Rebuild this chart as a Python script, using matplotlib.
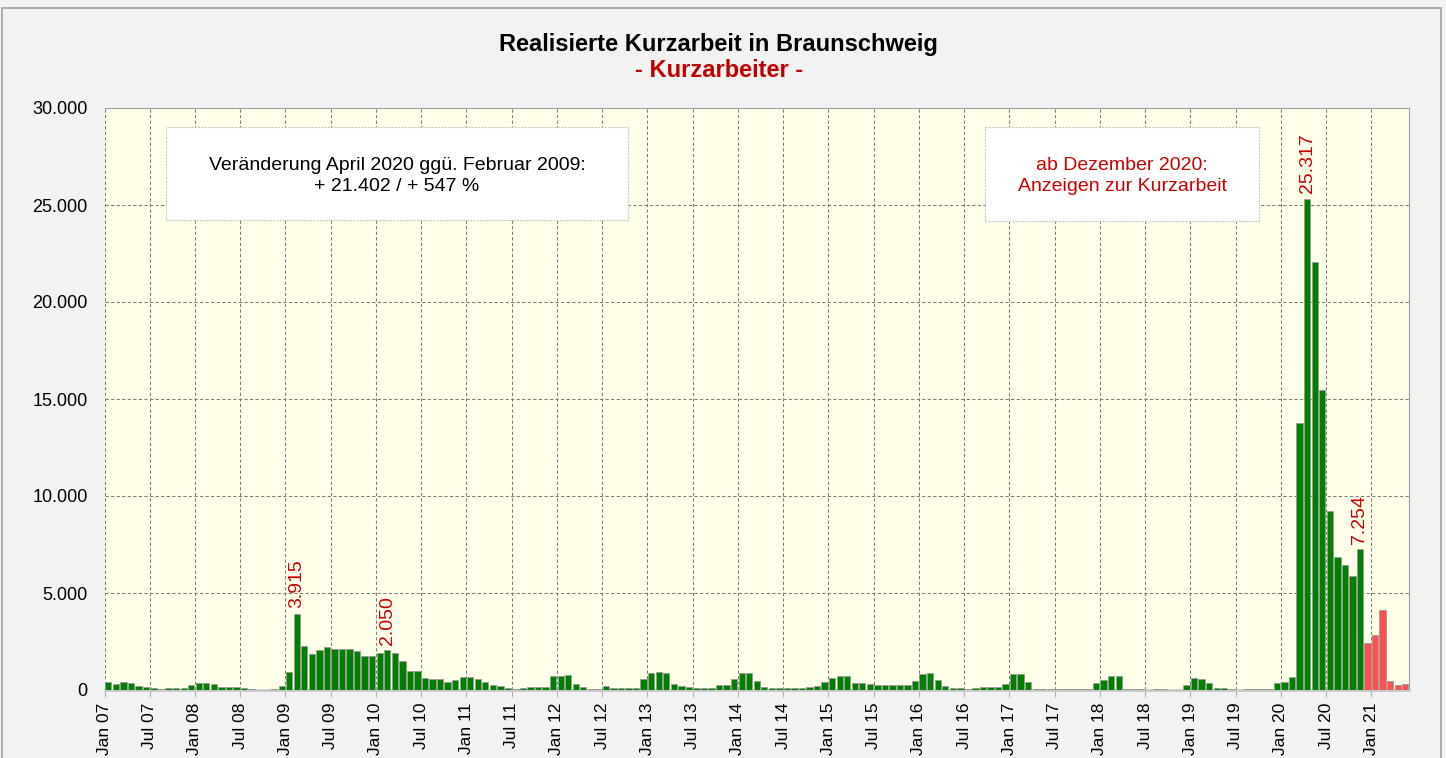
import matplotlib
matplotlib.use("Agg")
import matplotlib.pyplot as plt
import numpy as np
from matplotlib.patches import Rectangle

plt.rcParams['font.family'] = ['Liberation Sans', 'DejaVu Sans']

# realisierte Kurzarbeiter, Jan 2007 - Nov 2020
kug_2007 = [410, 310, 400, 345, 210, 170, 120, 35, 120, 120, 120, 240]
kug_2008 = [345, 360, 290, 155, 155, 155, 85, 70, 20, 20, 35, 200]
kug_2009 = [920, 3915, 2260, 1845, 2050, 2210, 2100, 2100, 2120, 1985, 1775, 1740]
kug_2010 = [1915, 2050, 1900, 1480, 965, 965, 640, 550, 550, 400, 500, 690]
kug_2011 = [690, 550, 415, 260, 190, 120, 70, 120, 140, 140, 140, 705]
kug_2012 = [705, 775, 330, 140, 70, 50, 190, 105, 85, 85, 85, 570]
kug_2013 = [860, 950, 880, 295, 205, 155, 105, 85, 85, 275, 260, 550]
kug_2014 = [860, 860, 485, 140, 120, 120, 105, 105, 105, 140, 205, 400]
kug_2015 = [620, 725, 740, 345, 345, 295, 240, 240, 240, 275, 275, 485]
kug_2016 = [810, 880, 535, 205, 105, 85, 50, 105, 140, 140, 140, 330]
kug_2017 = [810, 830, 415, 35, 35, 35, 35, 35, 50, 35, 35, 360]
kug_2018 = [535, 725, 725, 50, 50, 35, 20, 50, 50, 20, 20, 260]
kug_2019 = [620, 550, 380, 85, 85, 50, 20, 35, 35, 35, 35, 345]
kug_2020 = [430, 670, 13750, 25317, 22050, 15450, 9250, 6870, 6450, 5900, 7254]

# Anzeigen zur Kurzarbeit, Dez 2020 - Mai 2021
anzeigen = [2400, 2850, 4100, 450, 250, 300]

tick_labels = ["Jan 07", "Jul 07", "Jan 08", "Jul 08", "Jan 09", "Jul 09", "Jan 10", "Jul 10",
               "Jan 11", "Jul 11", "Jan 12", "Jul 12", "Jan 13", "Jul 13", "Jan 14", "Jul 14",
               "Jan 15", "Jul 15", "Jan 16", "Jul 16", "Jan 17", "Jul 17", "Jan 18", "Jul 18",
               "Jan 19", "Jul 19", "Jan 20", "Jul 20", "Jan 21"]

# beschriftete Monate (Index ab Jan 2007)
label_months = [25, 37, 159, 166]

realisiert = (kug_2007 + kug_2008 + kug_2009 + kug_2010 + kug_2011 + kug_2012 + kug_2013
              + kug_2014 + kug_2015 + kug_2016 + kug_2017 + kug_2018 + kug_2019 + kug_2020)
values = realisiert + anzeigen
n = len(values)


def de_fmt(v):
    return f"{int(v):,}".replace(",", ".")


fig = plt.figure(figsize=(14.46, 7.58), dpi=100)
fig.patch.set_facecolor('#f2f2f2')
fig.patches.append(Rectangle((2 / 1446, -0.01), 1439 / 1446, 1 - 8 / 758 + 0.01,
                             transform=fig.transFigure, fill=False,
                             edgecolor='#a0a0a0', linewidth=1.2))

ax = fig.add_axes([104.5 / 1446, 1 - 690 / 758, 1304.5 / 1446, 582 / 758])
ax.set_facecolor('#ffffea')

x = np.arange(n) + 0.5
colors = ['#008000'] * len(realisiert) + ['#ff5050'] * len(anzeigen)
ax.bar(x, values, width=0.84, color=colors, edgecolor='#9a9a9a', linewidth=0.6, zorder=3)

ax.set_xlim(0, n)
ax.set_ylim(0, 30000)
ax.set_yticks(np.arange(0, 30001, 5000))
ax.set_yticklabels([de_fmt(v) for v in np.arange(0, 30001, 5000)], fontsize=13)
ax.set_xticks(np.arange(0, n, 6))
ax.set_xticklabels(tick_labels, rotation=90, fontsize=12.5)
ax.tick_params(axis='y', length=0, pad=12)
ax.tick_params(axis='x', length=5, color='#b0b0b0', pad=4)

ax.grid(True, linestyle=(0, (3, 2)), color='#808080', linewidth=0.8, zorder=0)
ax.set_axisbelow(True)
for side in ['top', 'right']:
    ax.spines[side].set_color('#a0a0a0')
ax.spines['left'].set_visible(False)
ax.spines['bottom'].set_color('#c8c8c8')
ax.spines['bottom'].set_linewidth(2)

for i in label_months:
    ax.annotate(de_fmt(values[i]), (x[i], values[i]), xytext=(0, 4),
                textcoords='offset points', rotation=90, ha='center', va='bottom',
                color='#cc0000', fontsize=14)

# Textboxen
box1 = Rectangle((0.0471, 0.8076), 0.3542, 0.1598, transform=ax.transAxes,
                 facecolor='white', edgecolor='#c8c8c8', linestyle=(0, (2, 1)),
                 linewidth=0.8, zorder=4)
ax.add_patch(box1)
ax.text(0.2242, 0.883, "Veränderung April 2020 ggü. Februar 2009:\n+ 21.402 / + 547 %",
        transform=ax.transAxes, ha='center', va='center', fontsize=14,
        linespacing=1.25, zorder=5)

box2 = Rectangle((0.675, 0.806), 0.210, 0.161, transform=ax.transAxes,
                 facecolor='white', edgecolor='#c8c8c8', linestyle=(0, (2, 1)),
                 linewidth=0.8, zorder=4)
ax.add_patch(box2)
ax.text(0.780, 0.883, "ab Dezember 2020:\nAnzeigen zur Kurzarbeit",
        transform=ax.transAxes, ha='center', va='center', fontsize=14,
        color='#cc0000', linespacing=1.25, zorder=5)

fig.text(0.497, 1 - 50.7 / 758, "Realisierte Kurzarbeit in Braunschweig",
         ha='center', va='baseline', fontsize=17, fontweight='bold')
fig.text(0.497, 1 - 77.3 / 758, "- Kurzarbeiter -",
         ha='center', va='baseline', fontsize=17, fontweight='bold', color='#c00000')

fig.savefig("out.png", dpi=100, facecolor=fig.get_facecolor())
